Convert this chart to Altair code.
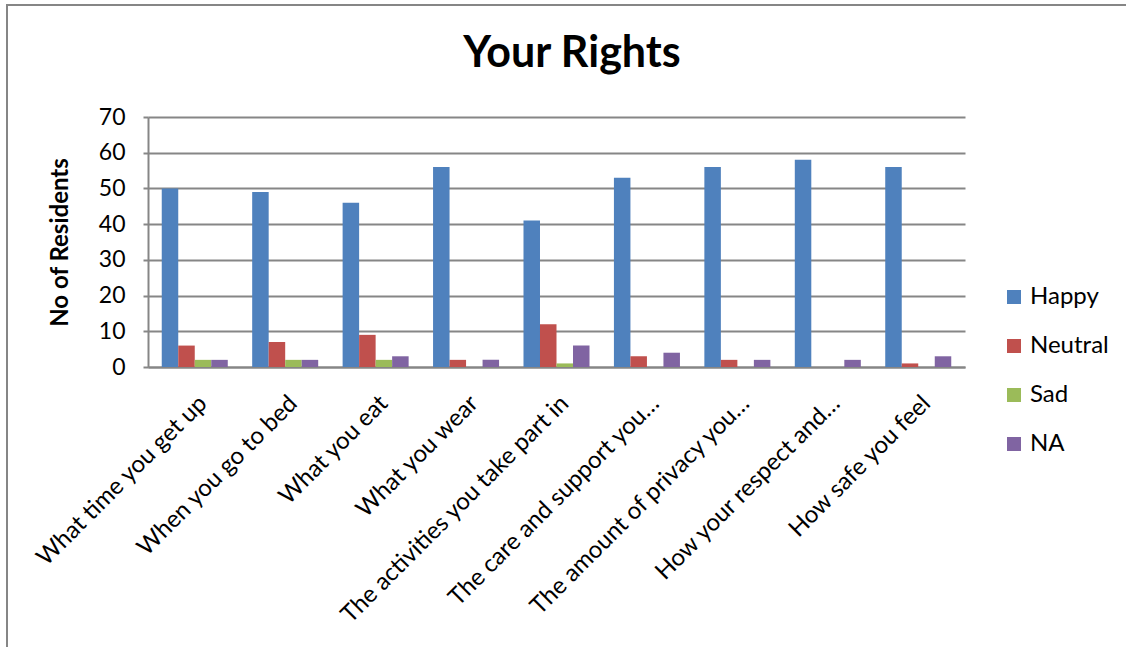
import altair as alt
import pandas as pd

categories = [
    "What time you get up",
    "When you go to bed",
    "What you eat",
    "What you wear",
    "The activities you take part in",
    "The care and support you…",
    "The amount of privacy you…",
    "How your respect and…",
    "How safe you feel",
]
series = ["Happy", "Neutral", "Sad", "NA"]
happy = [50, 49, 46, 56, 41, 53, 56, 58, 56]
neutral = [6, 7, 9, 2, 12, 3, 2, 0, 1]
sad = [2, 2, 2, 0, 1, 0, 0, 0, 0]
na = [2, 2, 3, 2, 6, 4, 2, 2, 3]
colors = ["#4F81BD", "#C0504D", "#9BBB59", "#8064A2"]
y_ticks = [0, 10, 20, 30, 40, 50, 60, 70]
chart_title = "Your Rights"

rows = []
for s, vals in zip(series, [happy, neutral, sad, na]):
    for c, v in zip(categories, vals):
        rows.append({"Question": c, "Response": s, "Count": v})
df = pd.DataFrame(rows)

W, H = 817, 250
L, T = 148, 117
FONT = "Lato"
GRAY = "#868686"

bars = alt.Chart(df).mark_bar().encode(
    x=alt.X(
        "Question:N",
        sort=categories,
        scale=alt.Scale(paddingInner=0.27, paddingOuter=0.152),
        axis=alt.Axis(
            title=None,
            labelAngle=-45,
            labelAlign="right",
            labelBaseline="top",
            labelFontSize=24,
            labelFont=FONT,
            labelColor="black",
            labelPadding=24,
            ticks=False,
            domainColor=GRAY,
            domainWidth=2,
            labelLimit=500,
        ),
    ),
    xOffset=alt.XOffset("Response:N", sort=series),
    y=alt.Y(
        "Count:Q",
        scale=alt.Scale(domain=[0, 70]),
        axis=alt.Axis(
            values=y_ticks,
            title="No of Residents",
            titleFont=FONT,
            titleFontSize=24,
            titleFontWeight="bold",
            titleColor="black",
            titleX=-76,
            labelFont=FONT,
            labelFontSize=23,
            labelColor="black",
            labelPadding=18,
            tickSize=5,
            tickColor=GRAY,
            tickWidth=2,
            domainColor=GRAY,
            domainWidth=2,
            gridColor=GRAY,
            gridWidth=2,
        ),
    ),
    color=alt.Color(
        "Response:N",
        sort=series,
        scale=alt.Scale(domain=series, range=colors),
        legend=alt.Legend(
            title=None,
            orient="none",
            legendX=854,
            legendY=168,
            padding=0,
            symbolType="square",
            symbolSize=196,
            symbolStrokeWidth=0,
            labelFont=FONT,
            labelFontSize=24,
            labelColor="black",
            rowPadding=25,
            labelOffset=4,
        ),
    ),
)

frame = alt.Chart(pd.DataFrame({"a": [0]})).mark_rect(
    fillOpacity=0, stroke=GRAY, strokeWidth=2
).encode(
    x=alt.value(7 - L), x2=alt.value(1200 - L), y=alt.value(5 - T), y2=alt.value(700 - T)
)

title = alt.Chart(pd.DataFrame({"t": [chart_title]})).mark_text(
    font=FONT, fontSize=43, fontWeight="bold", color="black", align="center", baseline="alphabetic"
).encode(text="t:N", x=alt.value(572 - L), y=alt.value(67 - T))

chart = alt.layer(frame, bars, title).properties(
    width=W,
    height=H,
    autosize=alt.AutoSizeParams(type="none"),
    padding={"left": L, "top": T, "right": 1126 - L - W, "bottom": 647 - T - H},
    background="white",
).configure_view(stroke=None)

chart.save("out.html", embed_options={"renderer": "svg", "actions": False})
